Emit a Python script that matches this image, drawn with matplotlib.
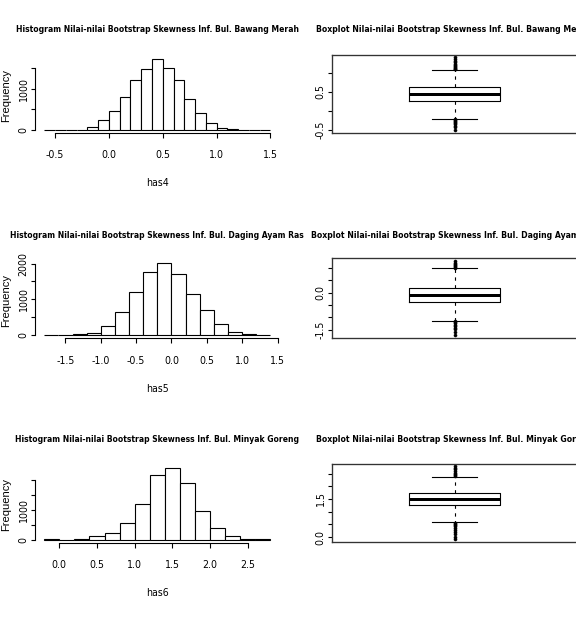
import os
import matplotlib
matplotlib.use("Agg")
import matplotlib.pyplot as plt
import matplotlib.font_manager as fm
from matplotlib.font_manager import FontProperties

# ---------------- data ----------------
hist_titles = [
    "Histogram Nilai-nilai Bootstrap Skewness Inf. Bul. Bawang Merah",
    "Histogram Nilai-nilai Bootstrap Skewness Inf. Bul. Daging Ayam Ras",
    "Histogram Nilai-nilai Bootstrap Skewness Inf. Bul. Minyak Goreng",
]
box_titles = [
    "Boxplot Nilai-nilai Bootstrap Skewness Inf. Bul. Bawang Merah",
    "Boxplot Nilai-nilai Bootstrap Skewness Inf. Bul. Daging Ayam Ras",
    "Boxplot Nilai-nilai Bootstrap Skewness Inf. Bul. Minyak Goreng",
]
xlabels = ["has4", "has5", "has6"]

edges4 = [-0.6, -0.5, -0.4, -0.3, -0.2, -0.1, 0.0, 0.1, 0.2, 0.3, 0.4, 0.5,
          0.6, 0.7, 0.8, 0.9, 1.0, 1.1, 1.2, 1.3, 1.4, 1.5]
counts4 = [12, 10, 12, 5, 73, 234, 468, 790, 1209, 1467, 1717, 1507,
           1209, 758, 403, 161, 48, 24, 4, 3, 14]

edges5 = [-1.8, -1.6, -1.4, -1.2, -1.0, -0.8, -0.6, -0.4, -0.2, 0.0, 0.2,
          0.4, 0.6, 0.8, 1.0, 1.2, 1.4]
counts5 = [12, 12, 20, 57, 245, 641, 1207, 1763, 2018, 1697, 1141, 688,
           311, 85, 19, 12]

edges6 = [-0.2, 0.0, 0.2, 0.4, 0.6, 0.8, 1.0, 1.2, 1.4, 1.6, 1.8, 2.0,
          2.2, 2.4, 2.6, 2.8]
counts6 = [20, 0, 25, 110, 215, 555, 1190, 2190, 2420, 1900, 965, 380,
           120, 25, 12]

hist_xticks = [[-0.5, 0.0, 0.5, 1.0, 1.5],
               [-1.5, -1.0, -0.5, 0.0, 0.5, 1.0, 1.5],
               [0.0, 0.5, 1.0, 1.5, 2.0, 2.5]]
hist_yticks = [[0, 500, 1000, 1500],
               [0, 500, 1000, 1500, 2000],
               [0, 500, 1000, 1500, 2000]]
hist_ylabels = [["0", "", "1000", ""],
                ["0", "", "1000", "", "2000"],
                ["0", "", "1000", "", ""]]

# boxplot summaries: q1, median, q3, lower whisker, upper whisker, outliers
box4 = dict(q1=0.25, med=0.44, q3=0.625, whislo=-0.21, whishi=1.08,
            fliers=[1.10, 1.12, 1.14, 1.16, 1.19, 1.22, 1.25, 1.29, 1.33, 1.37, 1.42,
                    -0.23, -0.25, -0.27, -0.30, -0.33, -0.36, -0.40, -0.44, -0.50])
box5 = dict(q1=-0.38, med=-0.10, q3=0.19, whislo=-1.14, whishi=0.99,
            fliers=[1.01, 1.04, 1.07, 1.10, 1.14, 1.19, 1.26,
                    -1.17, -1.21, -1.25, -1.30, -1.36, -1.42, -1.49, -1.58, -1.70])
box6 = dict(q1=1.25, med=1.50, q3=1.75, whislo=0.59, whishi=2.37,
            fliers=[2.40, 2.44, 2.48, 2.53, 2.59, 2.66, 2.72, 2.78,
                    0.56, 0.52, 0.47, 0.42, 0.36, 0.29, 0.21, 0.12, 0.02, -0.08])
box_yticks = [[-0.5, 0.0, 0.5, 1.0],
              [-1.5, -1.0, -0.5, 0.0, 0.5, 1.0],
              [0.0, 0.5, 1.0, 1.5, 2.0, 2.5]]
box_ylabels = [["-0.5", "", "0.5", ""],
               ["-1.5", "", "", "0.0", "", ""],
               ["0.0", "", "", "1.5", "", ""]]


# ---------------- fonts ----------------
def find_condensed(bold):
    best = None
    for f in fm.fontManager.ttflist:
        fn = os.path.basename(f.fname).lower()
        if ("narrow" in fn or "condensed" in fn) and not any(
                k in fn for k in ("oblique", "italic")):
            if ("bold" in fn) == bold:
                prio = 0 if "liberation" in fn else (1 if "dejavusans" in fn else 2)
                if best is None or prio < best[0]:
                    best = (prio, f.fname)
    return best[1] if best else None


reg_file = find_condensed(False)
bold_file = find_condensed(True)


def fp(size, bold=False):
    f = bold_file if bold else reg_file
    if f:
        return FontProperties(fname=f, size=size)
    return FontProperties(family=["Liberation Sans", "DejaVu Sans"], size=size,
                          weight="bold" if bold else "normal")


plt.rcParams["font.family"] = ["Liberation Sans", "DejaVu Sans"]

W, H = 576, 627
DPI = 100
fig = plt.figure(figsize=(W / DPI, H / DPI), dpi=DPI)
fig.patch.set_facecolor("white")
PT = 72.0 / DPI  # points per pixel
renderer = fig.canvas.get_renderer()


def add_ax(l, r, t, b):
    return fig.add_axes([l / W, 1 - b / H, (r - l) / W, (b - t) / H])


def fit_text(xpx, ypx, s, target_w, size, bold=False, **kw):
    t = fig.text(xpx / W, 1 - ypx / H, s, fontproperties=fp(size, bold), **kw)
    w = t.get_window_extent(renderer).width
    t.set_fontsize(size * target_w / w)
    return t


rows = [(56, 133), (260, 338), (465, 542.5)]
title_y = [30, 235, 440]
hist_title_w = [285, 297, 286]
box_title_w = [276, 286, 276]
HL, HR = 35.2, 279.5
BL, BR = 332, 577.5
LW = 0.8
TICKFS = 7.6

hists = [(edges4, counts4), (edges5, counts5), (edges6, counts6)]
boxes = [box4, box5, box6]

for i in range(3):
    t, b = rows[i]
    # ---------- histogram ----------
    edges, counts = hists[i]
    ax = add_ax(HL, HR, t, b)
    widths = [edges[k + 1] - edges[k] for k in range(len(counts))]
    ax.bar(edges[:-1], counts, width=widths, align="edge", facecolor="white",
           edgecolor="black", linewidth=LW)
    xr = edges[-1] - edges[0]
    ax.set_xlim(edges[0] - 0.04 * xr, edges[-1] + 0.04 * xr)
    ym = max(counts)
    ax.set_ylim(-0.04 * ym, 1.04 * ym)
    for s in ["top", "right"]:
        ax.spines[s].set_visible(False)
    for s in ["left", "bottom"]:
        ax.spines[s].set_linewidth(LW)
    ax.spines["bottom"].set_bounds(hist_xticks[i][0], hist_xticks[i][-1])
    ax.spines["left"].set_bounds(hist_yticks[i][0], hist_yticks[i][-1])
    ax.set_xticks(hist_xticks[i])
    ax.set_xticklabels([f"{v:.1f}" for v in hist_xticks[i]])
    ax.set_yticks(hist_yticks[i])
    ax.set_yticklabels(hist_ylabels[i])
    ax.tick_params(axis="x", length=4.5 * PT, width=LW, pad=13.0 * PT)
    ax.tick_params(axis="y", length=4.5 * PT, width=LW, pad=2 * PT, labelrotation=90)
    for lab in ax.get_xticklabels():
        lab.set_fontproperties(fp(TICKFS))
    for lab in ax.get_yticklabels():
        lab.set_fontproperties(fp(TICKFS))
        lab.set_va("center")
    ax.set_facecolor("none")
    fit_text((HL + HR) / 2, title_y[i], hist_titles[i], hist_title_w[i], 9, bold=True,
             ha="center", va="center")
    fig.text((HL + HR) / 2 / W, 1 - (b + 50.5) / H, xlabels[i], ha="center",
             va="center", fontproperties=fp(TICKFS))
    fig.text(6 / W, 1 - ((t + b) / 2 + 1) / H, "Frequency", rotation=90, ha="center",
             va="center", fontsize=8, family=["Liberation Sans", "DejaVu Sans"])

    # ---------- boxplot ----------
    bx = add_ax(BL, BR, t - 1.5, b - 0.5)
    st = dict(boxes[i])
    st["label"] = ""
    bx.bxp([st], positions=[1], widths=0.4, showfliers=True, patch_artist=False,
           boxprops=dict(color="black", linewidth=LW),
           medianprops=dict(color="black", linewidth=3 * PT),
           whiskerprops=dict(color="black", linewidth=LW, linestyle=(0, (3, 4))),
           capprops=dict(color="black", linewidth=LW),
           capwidths=0.2,
           flierprops=dict(marker="o", markersize=2.2, markerfacecolor="black",
                           markeredgecolor="black", markeredgewidth=0.4))
    vals = [st["whislo"], st["whishi"], st["q1"], st["q3"]] + list(st["fliers"])
    lo, hi = min(vals), max(vals)
    rr = hi - lo
    bx.set_ylim(lo - 0.04 * rr, hi + 0.04 * rr)
    bx.set_xlim(0.46, 1.54)
    bx.set_xticks([])
    bx.set_yticks(box_yticks[i])
    bx.set_yticklabels(box_ylabels[i])
    bx.tick_params(axis="y", length=4.5 * PT, width=LW, pad=2 * PT, labelrotation=90)
    for lab in bx.get_yticklabels():
        lab.set_fontproperties(fp(TICKFS))
        lab.set_va("center")
    for s in bx.spines.values():
        s.set_linewidth(LW * 1.2)
        s.set_color("#333333")
    fit_text((BL + 576) / 2, title_y[i], box_titles[i], box_title_w[i], 9, bold=True,
             ha="center", va="center")

fig.savefig("out.png", dpi=DPI, facecolor="white")
